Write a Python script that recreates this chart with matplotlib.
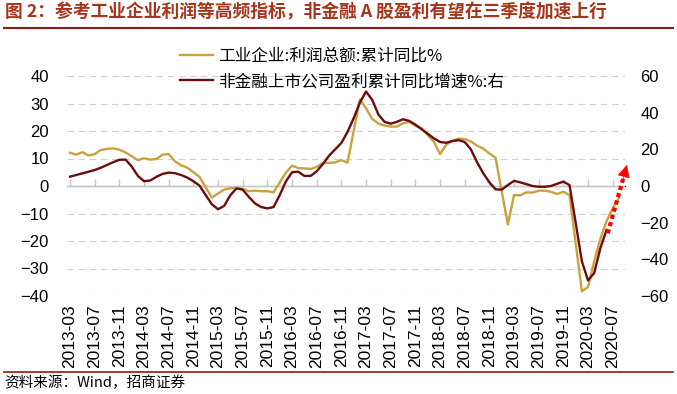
import numpy as np
import pandas as pd
import matplotlib

matplotlib.use("Agg")
import matplotlib.pyplot as plt

# monthly axis, 2013-03 .. 2020-08 (Jan values missing for the industrial series)
months = pd.period_range("2013-03", "2020-08", freq="M").strftime("%Y-%m").tolist()
tick_labels = months[::4]

# 工业企业:利润总额:累计同比% (left axis)
industry = [
    12.1, 11.4, 12.3, 11.1, 11.6, 13.1, 13.5, 13.7, 13.2, 12.2,          # 2013-03..12
    None, 9.4, 10.1, 9.6, 9.8, 11.4, 11.6, 9.0, 7.5, 6.7, 5.0, 3.3,      # 2014
    None, -4.2, -2.7, -1.3, -0.8, -0.7, -1.0, -1.9, -1.7, -1.9, -1.9, -2.3,  # 2015
    None, 4.8, 7.4, 6.5, 6.4, 6.2, 6.9, 8.4, 8.4, 8.6, 9.4, 8.5,         # 2016
    None, 31.5, 28.3, 24.4, 22.7, 22.0, 21.6, 21.6, 22.8, 23.3, 21.9, 21.0,  # 2017
    None, 16.1, 11.6, 15.0, 16.5, 17.2, 17.1, 16.2, 14.7, 13.6, 11.8, 10.3,  # 2018
    None, -14.0, -3.3, -3.4, -2.3, -2.4, -1.7, -1.7, -2.1, -2.9, -2.1, -3.3,  # 2019
    None, -38.3, -36.7, -27.4, -19.3, -12.8, -8.1, -4.4,                # 2020
]

# 非金融上市公司盈利累计同比增速% (right axis), ends 2020-06
nonfin = [
    5.1, 6.0, 6.9, 7.8, 8.7, 10.0, 11.5, 13.0, 14.3, 14.4,
    10.6, 5.5, 2.6, 3.0, 5.0, 6.6, 7.3, 7.0, 6.0, 4.6, 2.6, 0.2,
    -5.0, -10.0, -12.7, -10.8, -5.0, -1.3, -2.0, -6.0, -9.5, -11.5, -12.2, -11.5,
    -5.0, 2.5, 7.5, 7.8, 5.5, 5.5, 8.0, 12.0, 16.5, 20.0, 23.5, 29.5,
    37.0, 45.5, 51.5, 47.0, 39.0, 35.0, 34.0, 35.0, 36.4, 35.5, 33.5, 31.0,
    28.5, 26.0, 24.0, 23.6, 24.5, 25.0, 24.0, 20.0, 13.0, 7.0, 2.0, -1.8,
    -2.0, 0.5, 2.8, 2.0, 1.0, 0.0, -0.4, -0.4, 0.0, 1.2, 2.4, 0.5,
    -20.0, -41.0, -51.5, -47.5, -34.0, -24.0,
]

# dotted "acceleration" arrow on the right axis: (month index, value)
arrow_from = (87.2, -25.8)
arrow_mid = (89.7, 4.0)
arrow_to = (90.3, 11.5)

cjk = ["Noto Sans CJK SC", "DejaVu Sans"]
num_font = "Liberation Sans"
gold = "#C9A23E"
maroon = "#6E0B0B"
brick = "#A8341C"
line_red = "#8E1B12"

fig = plt.figure(figsize=(6.77, 3.94), dpi=100)
ax = fig.add_axes([67 / 677, 1 - 296 / 394, 558 / 677, 220 / 394])
ax2 = ax.twinx()

x = np.arange(len(months))
ind = pd.Series(industry, index=x, dtype=float).dropna()
ax.plot(ind.index, ind.values, color=gold, lw=1.7, zorder=3)
ax2.plot(x[: len(nonfin)], nonfin, color=maroon, lw=1.7, zorder=3)

ax.set_xlim(-0.5, 90)
ax.set_ylim(-40, 40)
ax2.set_ylim(-60, 60)
ax.set_yticks(range(-40, 41, 10))
ax2.set_yticks(range(-60, 61, 20))

for a in (ax, ax2):
    for s in a.spines.values():
        s.set_visible(False)
for v in range(-40, 41, 10):
    if v != 0:
        ax.axhline(v, color="#D0D0D0", lw=0.8, ls=(0, (6, 4)), zorder=0)
ax.axhline(0, color="#C8C8C8", lw=1.0, zorder=1)

ax.tick_params(axis="y", length=0, pad=13, labelsize=12)
ax2.tick_params(axis="y", length=0, pad=11, labelsize=12)

ax.set_xticks(x[::4])
ax.set_xticklabels(tick_labels, rotation=90, fontsize=12.5, fontfamily=num_font)
ax.tick_params(axis="x", length=0, pad=6)

# tick marks sit on the zero line
sec = ax.secondary_xaxis(0.5)
sec.set_xticks(x[::4])
sec.set_xticklabels([])
sec.tick_params(axis="x", direction="out", length=5, color="#C8C8C8", width=1)
sec.spines["bottom"].set_visible(False)

for lab in ax.get_yticklabels() + ax2.get_yticklabels():
    lab.set_fontfamily(num_font)

# dotted shaft + solid head
ax2.plot([arrow_from[0], arrow_mid[0]], [arrow_from[1], arrow_mid[1]],
         color="#FF0000", lw=3.0, ls=(0, (1.0, 0.8)), dash_capstyle="butt",
         clip_on=False, zorder=4)
ax2.annotate("", xy=arrow_to, xytext=arrow_mid, annotation_clip=False,
             arrowprops=dict(arrowstyle="-|>", color="#FF0000", lw=0.5,
                             mutation_scale=20, shrinkA=0, shrinkB=0))

h1 = plt.Line2D([], [], color=gold, lw=1.7)
h2 = plt.Line2D([], [], color=maroon, lw=1.7)
fig.legend(
    [h1, h2], ["工业企业:利润总额:累计同比%", "非金融上市公司盈利累计同比增速%:右"],
    loc="upper left", bbox_to_anchor=(165 / 677, 1 - 33 / 394), frameon=False,
    prop={"family": cjk, "size": 12}, handlelength=2.0, handletextpad=0.3,
    labelspacing=0.5,
)

fig.text(5 / 677, 1 - 12 / 394, "图 2：参考工业企业利润等高频指标，非金融 A 股盈利有望在三季度加速上行",
         color=brick, fontsize=12.8, fontweight="bold", family=cjk, va="center", ha="left")
fig.add_artist(plt.Line2D([4 / 677, 673 / 677], [1 - 28 / 394] * 2, color=line_red, lw=1.5))
fig.add_artist(plt.Line2D([4 / 677, 673 / 677], [1 - 372 / 394] * 2, color=line_red, lw=1.2))
fig.text(4 / 677, 1 - 383 / 394, "资料来源：Wind，招商证券", fontsize=10.5, family=cjk,
         va="center", ha="left")

fig.savefig("out.png", dpi=100)
